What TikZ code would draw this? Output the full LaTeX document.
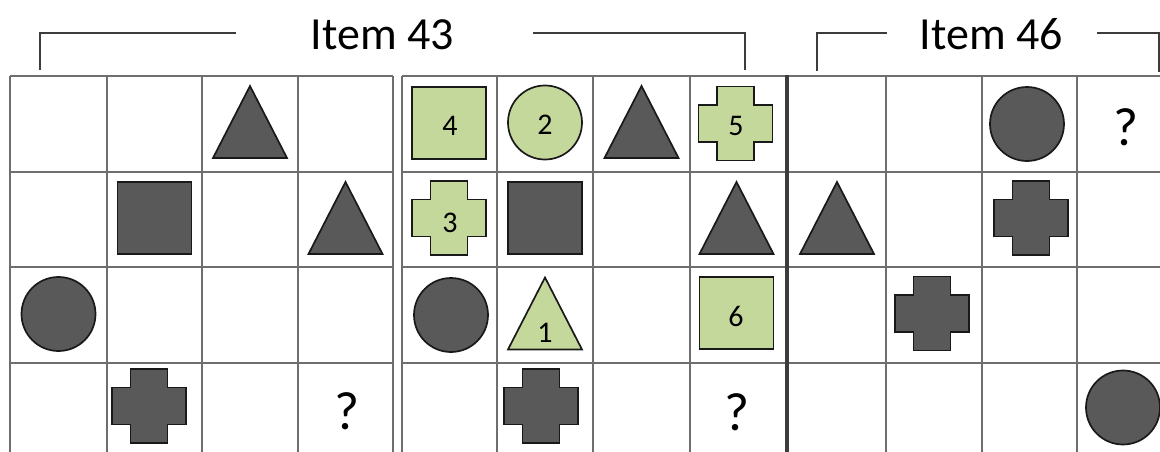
\documentclass[tikz,border=0pt]{standalone}
\usepackage{fontspec}
\setmainfont{Carlito}
\definecolor{dk}{RGB}{89,89,89}
\definecolor{gr}{RGB}{197,216,155}
\definecolor{gl}{RGB}{110,110,110}
\definecolor{br}{RGB}{60,60,60}
\begin{document}
\begin{tikzpicture}[x=1pt,y=-1pt,
  gridline/.style={draw=gl,line width=1.8pt},
  sepline/.style={draw=br,line width=3.2pt},
  bracket/.style={draw=br,line width=1.3pt},
  dkshape/.style={fill=dk,draw=black!90,line width=1.7pt},
  grshape/.style={fill=gr,draw=black!90,line width=1.7pt},
  num/.style={font=\fontsize{30}{32}\selectfont,text=black,inner sep=0pt},
  qmark/.style={font=\fontsize{54}{58}\selectfont,text=black,inner sep=0pt},
  title/.style={font=\fontsize{46}{50}\selectfont,anchor=base,inner sep=0pt},
  pics/sqr/.style={code={\path[pic actions] (-37,-36) rectangle (37,36);}},
  pics/crc/.style={code={\path[pic actions] (0,0) circle[radius=37pt];}},
  pics/tri/.style={code={\path[pic actions] (-37,36) -- (0,-36) -- (37,36) -- cycle;}},
  pics/crs/.style={code={\path[pic actions] (-18.5,-37) -- (18.5,-37) -- (18.5,-18.5) -- (37,-18.5) -- (37,18.5) -- (18.5,18.5) -- (18.5,37) -- (-18.5,37) -- (-18.5,18.5) -- (-37,18.5) -- (-37,-18.5) -- (-18.5,-18.5) -- cycle;}}
]
\useasboundingbox (0,0) rectangle (1160,452);
\clip (0,0) rectangle (1160,452);

% titles and brackets
\node[title] (t43) at (382.5,50) {Item 43};
\node[title] (t46) at (991.5,50) {Item 46};
\coordinate (a1) at (40,70); \coordinate (a2) at (40,33); \coordinate (a3) at (236,33);
\coordinate (a4) at (533,33); \coordinate (a5) at (745,33); \coordinate (a6) at (745,70);
\coordinate (b1) at (817,71); \coordinate (b2) at (817,33); \coordinate (b3) at (887,33);
\coordinate (b4) at (1097,33); \coordinate (b5) at (1159,33); \coordinate (b6) at (1159,72);
\draw[bracket] (a1) -- (a2) -- (a3);
\draw[bracket] (a4) -- (a5) -- (a6);
\draw[bracket] (b1) -- (b2) -- (b3);
\draw[bracket] (b4) -- (b5) -- (b6);

% grids
\foreach \x in {10,107,202,298,393} \draw[gridline] (\x,76) -- (\x,470);
\foreach \y in {76,172,267,363} \draw[gridline] (10,\y) -- (393,\y);
\foreach \x in {402,497,593,690} \draw[gridline] (\x,76) -- (\x,470);
\foreach \y in {76,172,267,363} \draw[gridline] (402,\y) -- (787,\y);
\foreach \x in {886,982,1077} \draw[gridline] (\x,76) -- (\x,470);
\foreach \y in {76,172,267,363} \draw[gridline] (787,\y) -- (1175,\y);
\draw[sepline] (787,75) -- (787,470);

% left grid
\pic[dkshape] (L02) at (250,122) {tri};
\pic[dkshape] (L11) at (154.5,218) {sqr};
\pic[dkshape] (L13) at (345.5,218) {tri};
\pic[dkshape] (L20) at (58.5,314) {crc};
\pic[dkshape] (L31) at (149,406) {crs};
\node[qmark] (q1) at (347.5,411) {?};

% middle grid
\pic[grshape] (M00) at (449,123) {sqr};
\node[num] (n4) at (450,126) {4};
\pic[grshape] (M01) at (545,122.5) {crc};
\node[num] (n2) at (545,125) {2};
\pic[dkshape] (M02) at (641.5,122) {tri};
\pic[grshape] (M03) at (735.5,123.5) {crs};
\node[num] (n5) at (736,126) {5};
\pic[grshape] (M10) at (449,218) {crs};
\node[num] (n3) at (450,223) {3};
\pic[dkshape] (M11) at (545,218) {sqr};
\pic[dkshape] (M13) at (736.5,218) {tri};
\pic[dkshape] (M20) at (451,315) {crc};
\pic[grshape] (M21) at (545,313.5) {tri};
\node[num] (n1) at (545,333) {1};
\pic[grshape] (M23) at (736.5,313) {sqr};
\node[num] (n6) at (736,316) {6};
\pic[dkshape] (M31) at (541,406) {crs};
\node[qmark] (q2) at (737.5,412) {?};

% right grid
\pic[dkshape] (R02) at (1027,124) {crc};
\node[qmark] (q3) at (1126,127) {?};
\pic[dkshape] (R10) at (837,218) {tri};
\pic[dkshape] (R12) at (1031,218) {crs};
\pic[dkshape] (R21) at (932,313.5) {crs};
\pic[dkshape] (R33) at (1123,407.5) {crc};
\end{tikzpicture}
\end{document}
